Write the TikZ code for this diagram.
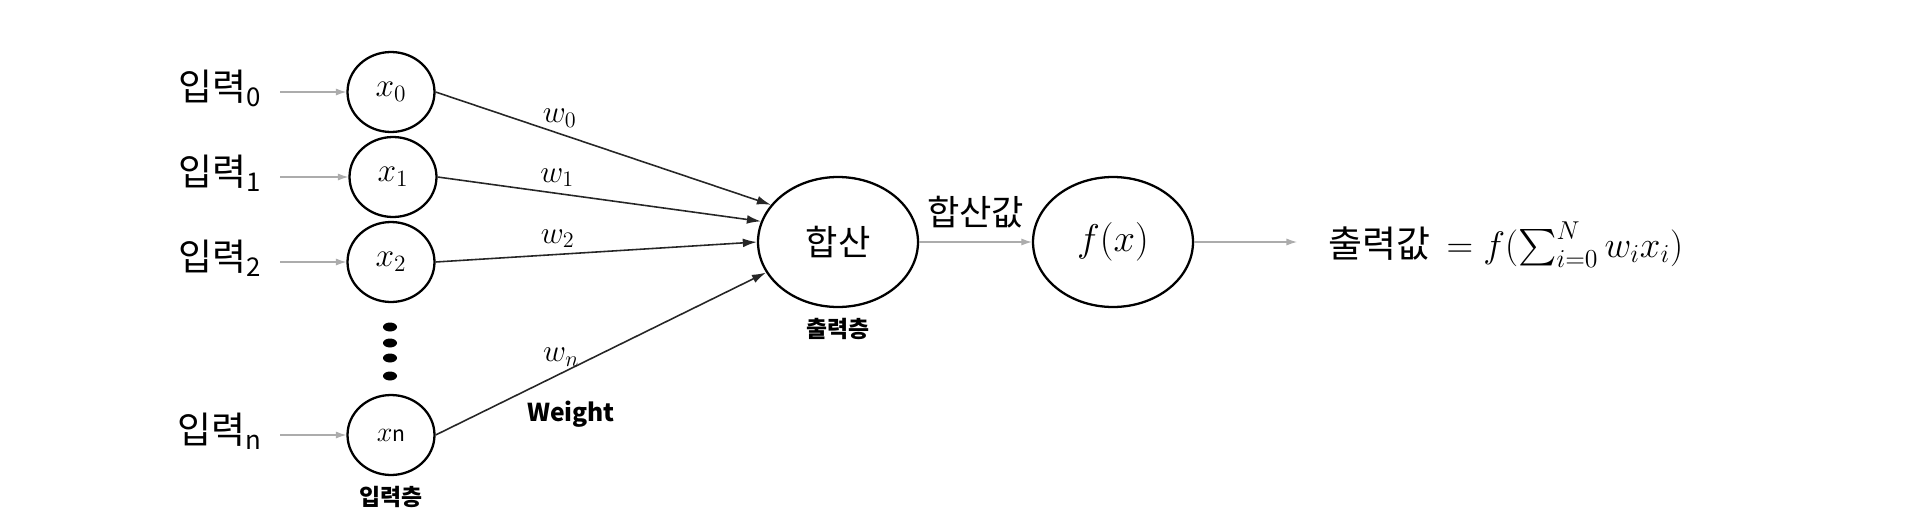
\RequirePackage{fix-cm}
\documentclass[tikz,border=0pt]{standalone}
\usepackage[no-math]{fontspec}
\setmainfont{Noto Sans CJK KR}
\usepackage{amsmath}
\usetikzlibrary{shapes.geometric,arrows.meta,positioning}

\tikzset{
    unit/.style={draw, ellipse, line width=1.3pt, minimum width=1.74cm, minimum height=1.6cm, inner sep=0pt, font=\fontsize{19}{21}\selectfont},
    sumnode/.style={draw, ellipse, line width=1.3pt, minimum width=3.2cm, minimum height=2.6cm, inner sep=0pt},
    inlab/.style={anchor=east, inner xsep=10pt, font=\fontsize{21}{25}\selectfont},
    layerlab/.style={font=\fontsize{13}{15}\selectfont\bfseries},
    wlab/.style={font=\fontsize{18}{20}\selectfont, black},
    feed/.style={-{Latex[length=6pt,width=4pt]}, gray!65, line width=.6pt},
    wline/.style={-{Latex[length=8pt,width=5pt]}, black!85, line width=.9pt}
}

\begin{document}
\begin{tikzpicture}[x=0.02cm,y=-0.02cm]
    \useasboundingbox (0,0) rectangle (1920,528);
    % input layer
    \node[unit] (x0) at (391,92) {$x_0$};
    \node[unit] (x1) at (393,177) {$x_1$};
    \node[unit] (x2) at (391,262) {$x_2$};
    \node[unit] (xn) at (391,435) {\fontsize{16}{18}\selectfont$x$\fontsize{12}{14}\selectfont n};
    \foreach \y in {327,343,358,376}
        \fill (390,\y) ellipse [x radius=0.14cm, y radius=0.09cm];
    \node[layerlab, below=2pt of xn] (inlayer) {입력층};

    \node[inlab] (in0) at (280,88) {입력\textsubscript{0}};
    \node[inlab] (in1) at (280,173) {입력\textsubscript{1}};
    \node[inlab] (in2) at (280,258) {입력\textsubscript{2}};
    \node[inlab] (inn) at (280,431) {입력\textsubscript{n}};
    \draw[feed] (in0.east |- x0) -- (x0);
    \draw[feed] (in1.east |- x1) -- (x1);
    \draw[feed] (in2.east |- x2) -- (x2);
    \draw[feed] (inn.east |- xn) -- (xn);

    % sum and activation
    \node[sumnode, font=\fontsize{20}{24}\selectfont] (sum) at (838,242) {합산};
    \node[layerlab, below=2pt of sum] (outlayer) {출력층};
    \node[sumnode, font=\fontsize{22}{26}\selectfont] (fx) at (1113,242) {$f(x)$};

    \draw[wline] (x0.east) -- (sum.151) node[wlab, pos=.37, above] {$w_0$};
    \draw[wline] (x1.east) -- (sum.165) node[wlab, pos=.37, above] {$w_1$};
    \draw[wline] (x2.east) -- (sum.180) node[wlab, pos=.38, above] {$w_2$};
    \draw[wline] (xn.east) -- (sum.203) node[wlab, pos=.38, above] {$w_n$};
    \node[layerlab, font=\fontsize{14}{16}\selectfont\bfseries] (weight) at (571,414) {Weight};

    \draw[feed] (sum) -- (fx) node[midway, above=4pt, font=\fontsize{20}{24}\selectfont, black] {합산값};
    \coordinate (tip) at (1297,242);
    \draw[feed] (fx) -- (tip);
    \node[anchor=west, font=\fontsize{21}{25}\selectfont] (result) at (1322,245) {출력값\ \ $= f(\sum_{i=0}^{N} w_i x_i)$};
\end{tikzpicture}
\end{document}
